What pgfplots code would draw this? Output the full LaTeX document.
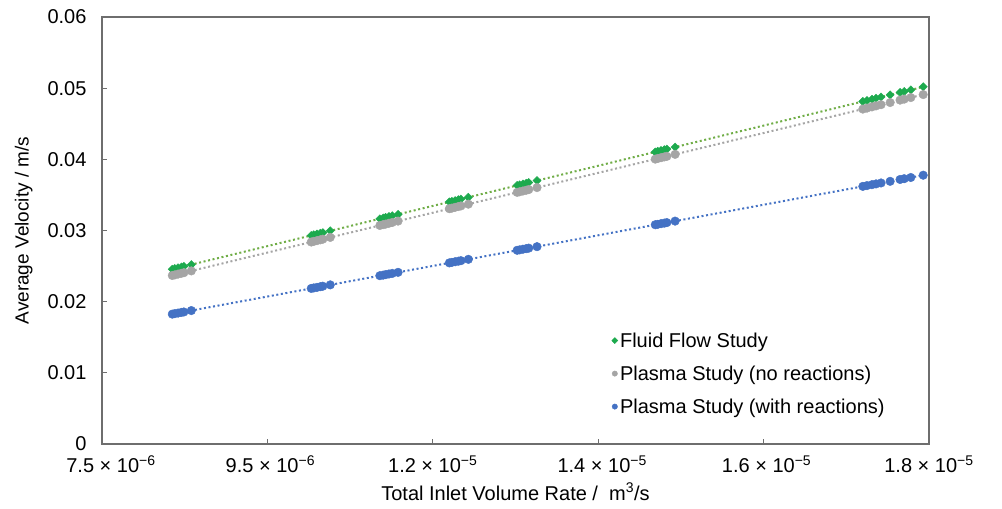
\documentclass[border=0pt]{standalone}
\usepackage{pgfplots}
\usepackage{pgfplotstable}
\pgfplotsset{compat=1.18}
\usepackage{fontspec}
\setmainfont{Liberation Sans}
\definecolor{ffmark}{HTML}{1DAA4E}
\definecolor{ffline}{HTML}{70AD47}
\definecolor{pgray}{HTML}{A5A5A5}
\definecolor{pblue}{HTML}{4472C4}
\definecolor{frame}{HTML}{6E6E6E}
\pgfplotstableread{
x     g       p       b
8.35  0.02456 0.02368 0.01825
8.38  0.02465 0.02376 0.01832
8.42  0.02476 0.02388 0.01840
8.46  0.02487 0.02399 0.01849
8.49  0.02496 0.02407 0.01855
8.58  0.02521 0.02432 0.01875
10.03 0.02930 0.02838 0.02186
10.06 0.02939 0.02847 0.02193
10.10 0.02950 0.02858 0.02201
10.14 0.02961 0.02869 0.02210
10.17 0.02970 0.02878 0.02217
10.26 0.02995 0.02903 0.02236
10.86 0.03165 0.03071 0.02365
10.90 0.03176 0.03082 0.02373
10.93 0.03184 0.03090 0.02380
10.97 0.03196 0.03102 0.02389
11.01 0.03207 0.03113 0.02397
11.08 0.03227 0.03132 0.02412
11.70 0.03402 0.03306 0.02545
11.73 0.03410 0.03314 0.02552
11.77 0.03421 0.03326 0.02561
11.81 0.03433 0.03337 0.02569
11.84 0.03441 0.03345 0.02576
11.93 0.03467 0.03370 0.02595
12.52 0.03633 0.03536 0.02722
12.55 0.03642 0.03544 0.02728
12.59 0.03653 0.03555 0.02737
12.63 0.03664 0.03566 0.02745
12.66 0.03673 0.03575 0.02752
12.76 0.03701 0.03603 0.02773
14.19 0.04104 0.04003 0.03081
14.22 0.04113 0.04012 0.03087
14.26 0.04124 0.04023 0.03096
14.30 0.04135 0.04034 0.03104
14.33 0.04144 0.04042 0.03111
14.43 0.04172 0.04070 0.03132
16.70 0.04813 0.04706 0.03620
16.75 0.04827 0.04720 0.03631
16.81 0.04844 0.04737 0.03644
16.86 0.04858 0.04751 0.03655
16.92 0.04875 0.04768 0.03668
17.03 0.04906 0.04798 0.03691
17.15 0.04940 0.04832 0.03717
17.20 0.04954 0.04846 0.03728
17.28 0.04976 0.04868 0.03745
17.43 0.05019 0.04910 0.03777
}\data
\begin{document}
\begin{tikzpicture}[x=1pt,y=1pt]
\useasboundingbox (0,0) rectangle (1002,509);
\begin{axis}[
  at={(102pt,65pt)}, anchor=south west,
  scale only axis, width=827pt, height=427pt,
  xmin=7.5, xmax=17.5, ymin=0, ymax=0.06,
  xtick={7.5,9.5,11.5,13.5,15.5,17.5},
  xticklabels={\hspace*{18pt}7.5 × 10\textsuperscript{−6},\hspace*{6pt}9.5 × 10\textsuperscript{−6},1.2 × 10\textsuperscript{−5},\hspace*{8pt}1.4 × 10\textsuperscript{−5},\hspace*{6pt}1.6 × 10\textsuperscript{−5},1.8 × 10\textsuperscript{−5}},
  ytick={0,0.01,0.02,0.03,0.04,0.05,0.06},
  yticklabels={0,0.01,0.02,0.03,0.04,0.05,0.06},
  scaled ticks=false,
  tick align=inside, xtick pos=bottom, ytick pos=left,
  major tick length=5pt,
  axis line style={frame, line width=1.3pt},
  every tick/.style={frame, line width=1pt},
  tick label style={font=\fontsize{20}{24}\selectfont, black},
  yticklabel style={xshift=-12pt},
  xticklabel style={yshift=-8pt},
  xlabel={Total Inlet Volume Rate /\ \ m\textsuperscript{3}/s},
  ylabel={Average Velocity / m/s},
  label style={font=\fontsize{20}{24}\selectfont},
  xlabel style={yshift=-3pt},
  ylabel style={yshift=8pt, font=\fontsize{19}{23}\selectfont},
  legend cell align=left,
  legend style={draw=none, fill=none, at={(0.616,0.266)}, anchor=north west,
    font=\fontsize{20}{24}\selectfont, row sep=13pt, inner sep=0pt},
]
\addplot[only marks, mark=square*, mark size=2.9pt, color=ffmark, mark options={rotate=45},
  legend image code/.code={\fill[ffmark] (0.2cm,-3pt) -- (0.2cm+3pt,0) -- (0.2cm,3pt) -- (0.2cm-3pt,0) -- cycle;}]
  table[x=x,y=g]{\data};
\addlegendentry{Fluid Flow Study}
\addplot[only marks, mark=*, mark size=4.3pt, color=pgray, mark options={draw=pgray, fill=pgray},
  legend image code/.code={\fill[pgray] (0.2cm,0) circle (2.7pt);}]
  table[x=x,y=p]{\data};
\addlegendentry{Plasma Study (no reactions)}
\addplot[only marks, mark=*, mark size=4.3pt, color=pblue, mark options={draw=pblue, fill=pblue},
  legend image code/.code={\fill[pblue] (0.2cm,0) circle (2.7pt);}]
  table[x=x,y=b]{\data};
\addlegendentry{Plasma Study (with reactions)}
\addplot[forget plot, no marks, ffline, line width=2pt, dash pattern=on 2pt off 2.6pt]
  table[x=x,y=g]{\data};
\addplot[forget plot, no marks, pgray, line width=2pt, dash pattern=on 2pt off 2.6pt]
  table[x=x,y=p]{\data};
\addplot[forget plot, no marks, pblue, line width=2pt, dash pattern=on 2pt off 2.6pt]
  table[x=x,y=b]{\data};
\end{axis}
\end{tikzpicture}
\end{document}
